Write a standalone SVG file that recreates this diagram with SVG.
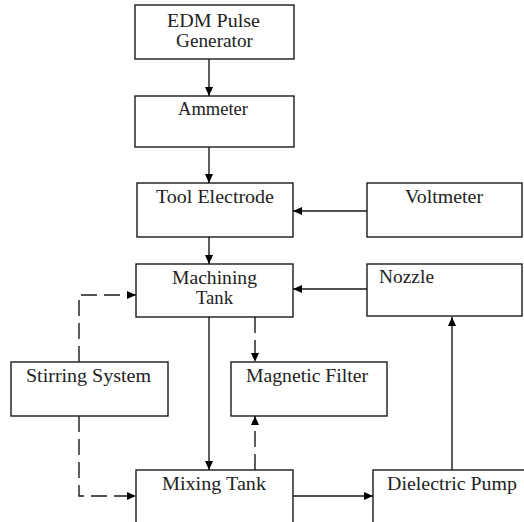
<svg xmlns="http://www.w3.org/2000/svg" width="524" height="522" viewBox="0 0 524 522">
<defs>
<marker id="ah" markerWidth="9" markerHeight="8" refX="9" refY="4" orient="auto" markerUnits="userSpaceOnUse">
<path d="M0,0 L9,4 L0,8 Z" fill="#000"/>
</marker>
<style>
.box{fill:#fff;stroke:#1a1a1a;stroke-width:1.4}
.t{font-family:"Liberation Serif","Times New Roman",serif;font-size:18px;fill:#222}
.m{text-anchor:middle}
.c{fill:none;stroke:#1a1a1a;stroke-width:1.4}
.d{stroke-dasharray:16 7}
</style>
</defs>
<rect width="524" height="522" fill="#fff"/>
<g id="connectors">
<line class="c" x1="209" y1="59" x2="209" y2="96" marker-end="url(#ah)"/>
<line class="c" x1="209" y1="147" x2="209" y2="183" marker-end="url(#ah)"/>
<line class="c" x1="209" y1="237" x2="209" y2="264" marker-end="url(#ah)"/>
<line class="c" x1="367" y1="211" x2="293" y2="211" marker-end="url(#ah)"/>
<line class="c" x1="367" y1="289" x2="293" y2="289" marker-end="url(#ah)"/>
<line class="c" x1="209" y1="317" x2="209" y2="470" marker-end="url(#ah)"/>
<line class="c" x1="293" y1="496" x2="373" y2="496" marker-end="url(#ah)"/>
<line class="c" x1="452" y1="470" x2="452" y2="317" marker-end="url(#ah)"/>
<line class="c d" x1="255" y1="317" x2="255" y2="362" marker-end="url(#ah)"/>
<line class="c d" x1="255" y1="470" x2="255" y2="416" marker-end="url(#ah)"/>
<polyline class="c d" points="79,362 79,295 136,295" marker-end="url(#ah)"/>
<polyline class="c d" points="79,416 79,496 136,496" marker-end="url(#ah)"/>
</g>
<g id="edm"><rect class="box" x="135" y="5" width="159" height="54"/><text class="t m" x="213.5" y="27" textLength="93" lengthAdjust="spacingAndGlyphs">EDM Pulse</text><text class="t m" x="214.5" y="47" textLength="77" lengthAdjust="spacingAndGlyphs">Generator</text></g>
<g id="ammeter"><rect class="box" x="135" y="96" width="159" height="51"/><text class="t m" x="213" y="115" textLength="70" lengthAdjust="spacingAndGlyphs">Ammeter</text></g>
<g id="tool"><rect class="box" x="137" y="183" width="156" height="54"/><text class="t m" x="215" y="203" textLength="118" lengthAdjust="spacingAndGlyphs">Tool Electrode</text></g>
<g id="voltmeter"><rect class="box" x="367" y="183" width="155" height="54"/><text class="t m" x="444" y="203" textLength="78" lengthAdjust="spacingAndGlyphs">Voltmeter</text></g>
<g id="machining"><rect class="box" x="136" y="264" width="157" height="53"/><text class="t m" x="214.5" y="284" textLength="85" lengthAdjust="spacingAndGlyphs">Machining</text><text class="t m" x="214.5" y="304" textLength="37" lengthAdjust="spacingAndGlyphs">Tank</text></g>
<g id="nozzle"><rect class="box" x="367" y="264" width="155" height="52"/><text class="t" x="379" y="283" textLength="55" lengthAdjust="spacingAndGlyphs">Nozzle</text></g>
<g id="stirring"><rect class="box" x="11" y="362" width="157" height="54"/><text class="t m" x="88.5" y="382" textLength="125" lengthAdjust="spacingAndGlyphs">Stirring System</text></g>
<g id="filter"><rect class="box" x="231" y="362" width="156" height="54"/><text class="t m" x="307" y="382" textLength="122" lengthAdjust="spacingAndGlyphs">Magnetic Filter</text></g>
<g id="mixing"><rect class="box" x="136" y="470" width="157" height="60"/><text class="t m" x="214" y="490" textLength="104" lengthAdjust="spacingAndGlyphs">Mixing Tank</text></g>
<g id="pump"><rect class="box" x="373" y="470" width="160" height="60"/><text class="t m" x="452" y="490" textLength="130" lengthAdjust="spacingAndGlyphs">Dielectric Pump</text></g>
</svg>
